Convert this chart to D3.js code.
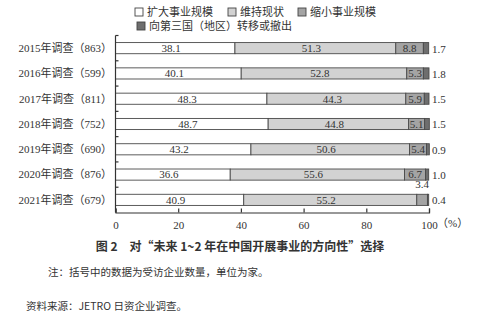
<!DOCTYPE html>
<html><head><meta charset="utf-8">
<script src="https://cdn.jsdelivr.net/npm/d3@7"></script>
<style>
body{margin:0;background:#fff;}
text{font-family:"Liberation Serif","Noto Sans CJK SC",serif;fill:#333;}
</style></head>
<body>
<svg id="c" width="500" height="324"></svg>
<script>
const categories = ["2015年调查（863）","2016年调查（599）","2017年调查（811）","2018年调查（752）","2019年调查（690）","2020年调查（876）","2021年调查（679）"];
const seriesNames = ["扩大事业规模","维持现状","缩小事业规模","向第三国（地区）转移或撤出"];
const expand = [38.1,40.1,48.3,48.7,43.2,36.6,40.9];
const maintain = [51.3,52.8,44.3,44.8,50.6,55.6,55.2];
const shrink = [8.8,5.3,5.9,5.1,5.4,6.7,3.4];
const withdraw = [1.7,1.8,1.5,1.5,0.9,1.0,0.4];
const xTicks = [0,20,40,60,80,100];
const colors = ["#ffffff","#d2d2d2","#a4a4a4","#6e6e6e"];

const series = [expand, maintain, shrink, withdraw];
const svg = d3.select("#c");
const x = d3.scaleLinear().domain([0,100]).range([115.5,429]);
const y = d3.scaleBand().domain(categories).range([35.5,212.5]).paddingInner(0.56).paddingOuter(0.28);

// bars
categories.forEach((c,i)=>{
  let acc=0;
  series.forEach((s,j)=>{
    const v=s[i];
    svg.append("rect").attr("x",x(acc)).attr("y",y(c)).attr("width",x(acc+v)-x(acc)).attr("height",y.bandwidth())
      .attr("fill",colors[j]).attr("stroke","#4a4a4a").attr("stroke-width",0.9);
    const cy=y(c)+y.bandwidth()/2;
    if(j<2){
      svg.append("text").attr("x",(x(acc)+x(acc+v))/2-4).attr("y",cy).attr("dy","0.35em").attr("text-anchor","middle").attr("font-size",11).text(v.toFixed(1));
    } else if(j===2){
      if(v<4){
        svg.append("text").attr("x",(x(acc)+x(acc+v))/2).attr("y",y(c)-6).attr("text-anchor","middle").attr("font-size",11).text(v.toFixed(1));
      } else {
        svg.append("text").attr("x",(x(acc)+x(acc+v))/2).attr("y",cy).attr("dy","0.35em").attr("text-anchor","middle").attr("font-size",11).text(v.toFixed(1));
      }
    } else {
      svg.append("text").attr("x",x(100)+3).attr("y",cy).attr("dy","0.4em").attr("text-anchor","start").attr("font-size",11).text(v.toFixed(1));
    }
    acc+=v;
  });
});

// y axis
const yAx = svg.append("g");
yAx.append("line").attr("x1",x(0)).attr("x2",x(0)).attr("y1",35.5).attr("y2",212.5).attr("stroke","#333").attr("stroke-width",1.2);
const step = y.step();
for(let k=0;k<7;k++){
  const ty = 35.5 + k*(177/7);
  yAx.append("line").attr("x1",x(0)).attr("x2",x(0)+3).attr("y1",ty).attr("y2",ty).attr("stroke","#333").attr("stroke-width",1.2);
}
categories.forEach(c=>{
  yAx.append("text").attr("x",112).attr("y",y(c)+y.bandwidth()/2).attr("dy","0.35em").attr("text-anchor","end").attr("font-size",11).text(c);
});

// x axis
const xAxis = d3.axisBottom(x).tickValues(xTicks).tickSize(-4).tickFormat(d=>d);
const gx = svg.append("g").attr("transform","translate(0,212.5)").call(xAxis);
gx.select(".domain").attr("stroke","#333").attr("stroke-width",1.2);
gx.selectAll(".tick line").attr("stroke","#333").attr("stroke-width",1.2);
gx.selectAll(".tick text").attr("font-size",11).attr("dy","1.2em").attr("fill","#333").style("font-family","Liberation Serif");
svg.append("text").attr("x",x(100)+8).attr("y",226.5).attr("font-size",11).text("（%）").attr("text-anchor","start");

// legend
const legPos = [[135,12],[228,12],[298,12],[137,26]];
seriesNames.forEach((n,j)=>{
  const [lx,ly]=legPos[j];
  svg.append("rect").attr("x",lx).attr("y",ly-4).attr("width",8).attr("height",8).attr("fill",colors[j]).attr("stroke","#444").attr("stroke-width",0.9);
  svg.append("text").attr("x",lx+12).attr("y",ly).attr("dy","0.35em").attr("font-size",11).text(n);
});

// title & notes
svg.append("text").attr("x",240).attr("y",247).attr("dy","0.35em").attr("text-anchor","middle").attr("font-size",12).attr("font-weight","bold")
  .style("font-family","'Noto Sans CJK SC',sans-serif").attr("fill","#222").text("图 2　对“未来 1~2 年在中国开展事业的方向性”选择");
svg.append("text").attr("x",48).attr("y",272).attr("dy","0.35em").attr("font-size",10.5).style("font-family","'Noto Sans CJK SC',sans-serif").attr("fill","#444").text("注：括号中的数据为受访企业数量，单位为家。");
svg.append("text").attr("x",26).attr("y",306).attr("dy","0.35em").attr("font-size",10.5).style("font-family","'Noto Sans CJK SC',sans-serif").attr("fill","#444").text("资料来源：JETRO 日资企业调查。");
</script>
</body></html>
